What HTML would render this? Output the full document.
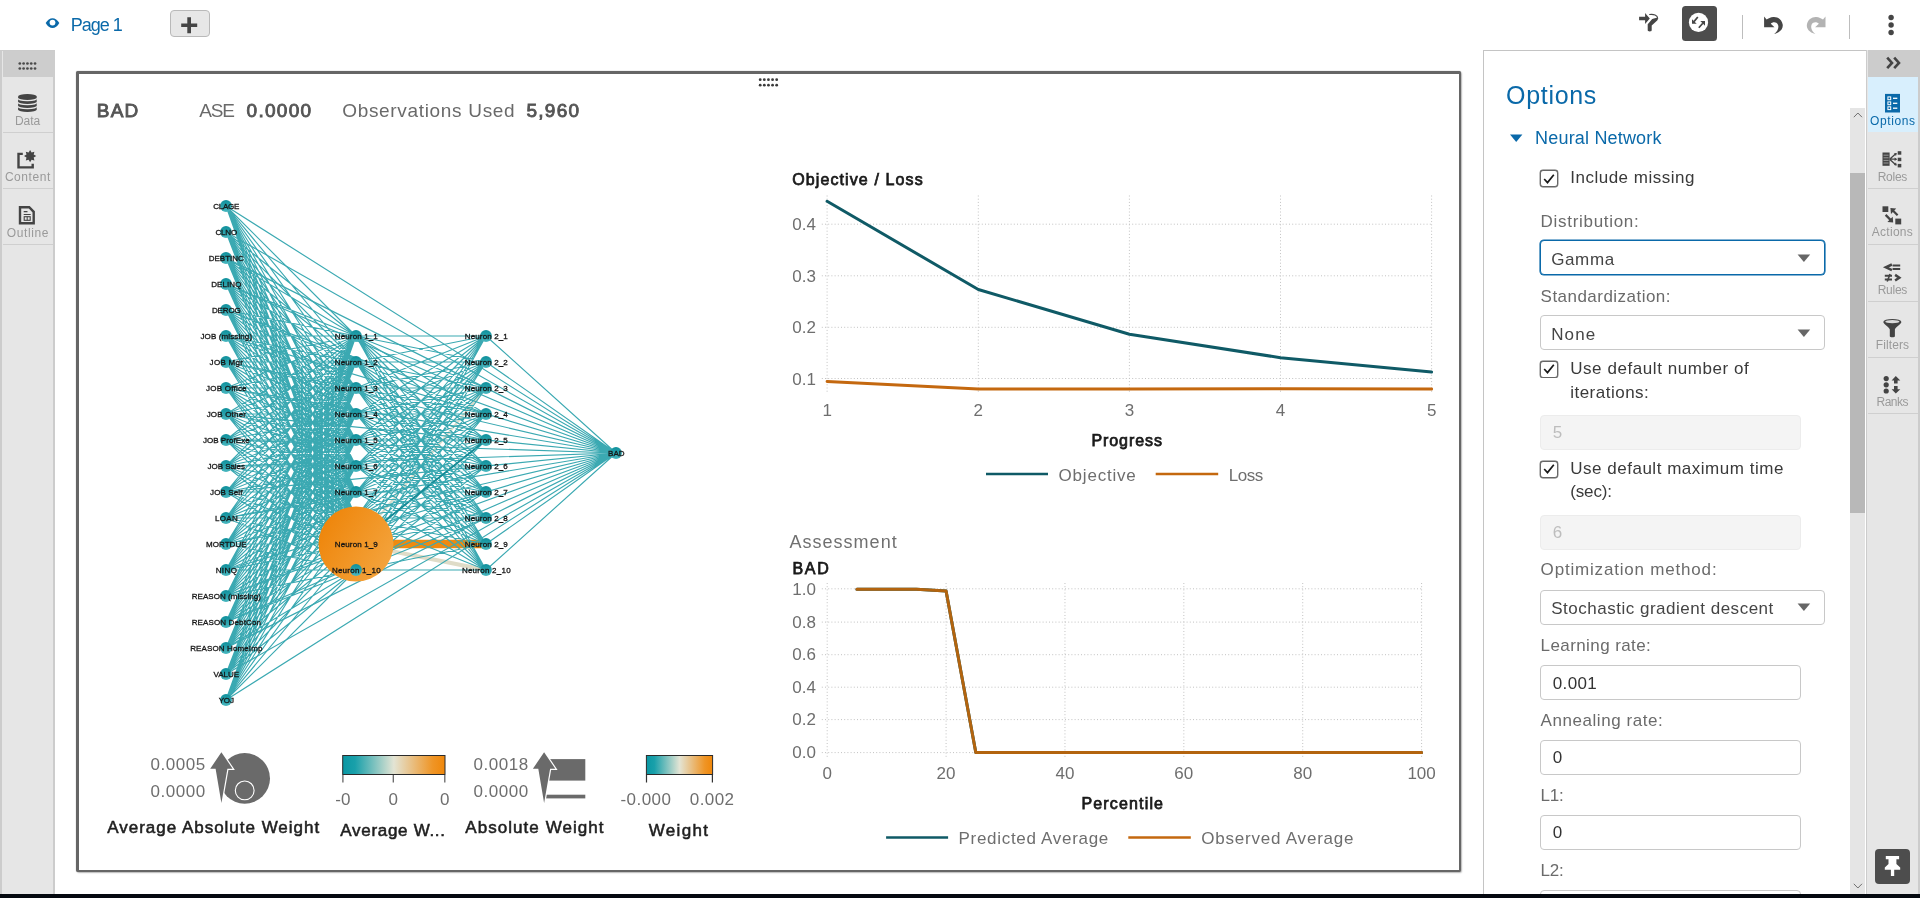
<!DOCTYPE html>
<html lang="en"><head><meta charset="utf-8"><title>SAS Visual Analytics - Neural Network</title>
<style>
html,body{margin:0;padding:0}
html{width:1920px;height:898px;overflow:hidden}
body{width:1920px;height:898px;position:relative;overflow:hidden;background:#fff;font-family:"Liberation Sans",sans-serif;color:#333}
.t{position:absolute;white-space:nowrap;line-height:1}
.abs{position:absolute}
svg{position:absolute;overflow:visible}
#topline{position:absolute;left:1483px;top:50px;width:437px;height:1px;background:#c4c4c4}
#leftbar{position:absolute;left:0;top:50px;width:55px;height:844px;background:#e6e6e6;border-left:2px solid #ccc;border-right:2px solid #ccc;border-top:1px solid #ccc;box-sizing:border-box}
#leftbar .grip{position:absolute;left:1px;top:0;width:52px;height:26px;background:#cdcdcd}
.sep{position:absolute;height:1px;background:#cfcfcf}
#frame{position:absolute;left:76px;top:71px;width:1385.3px;height:801.2px;box-sizing:border-box;border:2px solid #666;border-top-width:3px;border-left-width:3px;border-radius:2px;background:#fff;box-shadow:0 0 1px #777, 1px 1px 1.5px rgba(0,0,0,.25)}
#panel{position:absolute;left:1483px;top:50px;width:384px;height:844px;box-sizing:border-box;border-left:1px solid #c4c4c4;border-top:1px solid #c4c4c4;background:#fff;overflow:hidden}
#rightbar{position:absolute;left:1866px;top:50px;width:54px;height:844px;background:#e6e6e6;border-left:1px solid #ccc;border-right:2px solid #ccc;box-sizing:border-box}
#bottombar{position:absolute;left:0;top:894px;width:1920px;height:4px;background:#04080f}
.sel,.inp{position:absolute;box-sizing:border-box;border:1px solid #c8c8c8;border-radius:4px;background:#fff}
.inp.dis{background:#f4f4f4;border-color:#ececec}
.sel.focus{border:1px solid #0a69a9;box-shadow:0 0 0 0.6px #0a69a9}
.cb{position:absolute;box-sizing:border-box;width:18px;height:17px;border:1px solid #666;box-shadow:0 0 0 0.4px #666;border-radius:3px;background:#fff}
#app{position:absolute;left:0;top:0;width:1920px;height:898px;overflow:hidden;will-change:transform}
</style></head><body><div id="app">
<div id="toolbar">
<svg width="16" height="12" style="left:45px;top:17px" viewBox="45 17 16 12"><path d="M45.7,23.1 C47.5,19.6 50,18.2 52.5,18.2 C55,18.2 57.5,19.6 59.3,23.1 C57.5,26.6 55,28 52.5,28 C50,28 47.5,26.6 45.7,23.1 Z" fill="#0a69a9"/><circle cx="52.5" cy="22.6" r="2.9" fill="#fff"/></svg>
<div class="t" style="left:70.8px;top:15.66px;font-size:18px;color:#0a69a9;letter-spacing:-1.01px;">Page 1</div>
<div class="abs" style="left:170px;top:10px;width:40px;height:27px;box-sizing:border-box;border:1px solid #b9b9b9;border-radius:4px;background:#e7e7e7"></div>
<svg width="18" height="18" style="left:180px;top:16px" viewBox="180 16 18 18"><path d="M181.2,23.4 H187.3 V17.2 H191 V23.4 H197.2 V27 H191 V33.3 H187.3 V27 H181.2 Z" fill="#454545"/></svg>
<svg width="24" height="22" style="left:1636px;top:11px" viewBox="1636 11 24 22"><path d="M1639.1,16.7 H1645.1 V13 L1649.8,18.5 L1645.1,24 V20.3 H1639.1 Z" fill="#454545"/><path d="M1652.2,18.9 L1657.6,17.6 C1658.2,18.6 1658,19.8 1657.2,20.5 L1651.7,25.4 V30.2 C1651.7,31.8 1647.7,31.8 1647.7,30.2 V24.3 Z" fill="#454545"/><path d="M1649.6,14.5 C1653.5,13.9 1657.6,15.2 1657.7,18.2" fill="none" stroke="#454545" stroke-width="1.1" stroke-linecap="round"/></svg>
<div class="abs" style="left:1682px;top:6px;width:34.5px;height:35px;border-radius:3.5px;background:#4d4d4d"></div>
<svg width="22" height="22" style="left:1688px;top:12px" viewBox="1688 12 22 22"><circle cx="1698.5" cy="22.4" r="9.6" fill="#fff"/><path d="M1697.8,17 L1694,21.6 M1698.8,27.7 L1702.8,23.2" stroke="#454545" stroke-width="1.7" fill="none"/><path d="M1692,19.2 V23.8 H1696.7 Z M1700.3,21 H1705 V25.7 Z" fill="#454545"/></svg>
<div class="abs" style="left:1741.6px;top:15px;width:1.4px;height:24px;background:#bdbdbd"></div>
<svg width="22" height="20" style="left:1763px;top:15px" viewBox="1763 15 22 20"><path d="M1764.1,16.4 L1764.1,27.3 L1774.5,27.3 L1770.8,23.8 C1772,22.3 1774.5,21.8 1776.3,22.8 C1779.5,24.6 1779.2,30.5 1774.2,33.9 C1780.5,32.5 1783.3,28.5 1782.7,24.5 C1782,19.5 1777.5,16.6 1773.4,16.9 C1770.5,17.1 1768.3,18.3 1766.6,19.6 Z" fill="#454545"/></svg>
<svg width="22" height="20" style="left:1805px;top:15px" viewBox="1805 15 22 20"><path transform="translate(3589.6,0) scale(-1,1)" d="M1764.1,16.4 L1764.1,27.3 L1774.5,27.3 L1770.8,23.8 C1772,22.3 1774.5,21.8 1776.3,22.8 C1779.5,24.6 1779.2,30.5 1774.2,33.9 C1780.5,32.5 1783.3,28.5 1782.7,24.5 C1782,19.5 1777.5,16.6 1773.4,16.9 C1770.5,17.1 1768.3,18.3 1766.6,19.6 Z" fill="#b3b3b3"/></svg>
<div class="abs" style="left:1848.5px;top:15px;width:1.4px;height:24px;background:#bdbdbd"></div>
<svg width="8" height="22" style="left:1887px;top:14px" viewBox="1887 14 8 22"><circle cx="1891.1" cy="17.5" r="2.7" fill="#454545"/><circle cx="1891.1" cy="25" r="2.7" fill="#454545"/><circle cx="1891.1" cy="32.5" r="2.7" fill="#454545"/></svg>
</div>
<div id="topline"></div>
<div id="leftbar"><div class="grip"></div></div>
<svg width="20" height="9" style="left:18px;top:61px" viewBox="18 61 20 9" fill="#4a4a4a"><circle cx="19.8" cy="63.5" r="1.35"/><circle cx="23.61" cy="63.5" r="1.35"/><circle cx="27.42" cy="63.5" r="1.35"/><circle cx="31.23" cy="63.5" r="1.35"/><circle cx="35.04" cy="63.5" r="1.35"/><circle cx="19.8" cy="68.5" r="1.35"/><circle cx="23.61" cy="68.5" r="1.35"/><circle cx="27.42" cy="68.5" r="1.35"/><circle cx="31.23" cy="68.5" r="1.35"/><circle cx="35.04" cy="68.5" r="1.35"/></svg>
<svg width="20" height="20" style="left:17px;top:93px" viewBox="17 93 20 20"><path d="M18.1,96.4 V109.4 A9.3,2.6 0 0 0 36.7,109.4 V96.4 A9.3,2.4 0 0 0 18.1,96.4 Z" fill="#444"/><g fill="none" stroke="#e6e6e6" stroke-width="1.3"><path d="M18.1,98.3 A9.3,2.4 0 0 0 36.7,98.3"/><path d="M18.1,102.3 A9.3,2.4 0 0 0 36.7,102.3"/><path d="M18.1,106.3 A9.3,2.4 0 0 0 36.7,106.3"/></g></svg>
<div class="t" style="left:14.9px;top:114.64px;font-size:12px;color:#9a9a9a;letter-spacing:-0.02px;">Data</div>
<div class="sep" style="left:3px;top:132px;width:50px"></div>
<svg width="22" height="20" style="left:16px;top:150px" viewBox="16 150 22 20"><path d="M22.8,153.9 H18.5 V167.4 H32.7 V163.8" fill="none" stroke="#444" stroke-width="2.4"/><polygon points="30.1,150 31.59,152.5 34.41,151.79 33.7,154.61 36.2,156.1 33.7,157.59 34.41,160.41 31.59,159.7 30.1,162.2 28.61,159.7 25.79,160.41 26.5,157.59 24,156.1 26.5,154.61 25.79,151.79 28.61,152.5" fill="#444"/></svg>
<div class="t" style="left:4.9px;top:170.54px;font-size:12px;color:#9a9a9a;letter-spacing:0.55px;">Content</div>
<div class="sep" style="left:3px;top:188px;width:50px"></div>
<svg width="18" height="20" style="left:18px;top:205px" viewBox="18 205 18 20"><path d="M20,207.2 H29.2 L33.7,211.8 V223.3 H20 Z" fill="none" stroke="#444" stroke-width="2.4" stroke-linejoin="miter"/><path d="M23.7,211.6 H27.5 M23.7,214.5 H30.7" stroke="#444" stroke-width="1.2"/><rect x="24.2" y="216.7" width="6" height="3.6" fill="none" stroke="#444" stroke-width="1.1"/><path d="M27.2,216.7 V220.3" stroke="#444" stroke-width="1"/></svg>
<div class="t" style="left:6.7px;top:226.54px;font-size:12px;color:#9a9a9a;letter-spacing:0.62px;">Outline</div>
<div class="sep" style="left:3px;top:244px;width:50px"></div>
<div id="frame"></div>
<svg width="22" height="10" style="left:758px;top:77px" viewBox="758 77 22 10" fill="#3a3a3a"><circle cx="760.2" cy="79.7" r="1.4"/><circle cx="764.32" cy="79.7" r="1.4"/><circle cx="768.44" cy="79.7" r="1.4"/><circle cx="772.56" cy="79.7" r="1.4"/><circle cx="776.68" cy="79.7" r="1.4"/><circle cx="760.2" cy="85.2" r="1.4"/><circle cx="764.32" cy="85.2" r="1.4"/><circle cx="768.44" cy="85.2" r="1.4"/><circle cx="772.56" cy="85.2" r="1.4"/><circle cx="776.68" cy="85.2" r="1.4"/></svg>
<div class="t" style="left:96.8px;top:101.32px;font-size:19px;color:#555;-webkit-text-stroke:0.9px #555;letter-spacing:1.17px;">BAD</div>
<div class="t" style="left:199.2px;top:101.32px;font-size:19px;color:#6a6a6a;letter-spacing:-1.15px;">ASE</div>
<div class="t" style="left:246.6px;top:101.32px;font-size:19px;color:#555;-webkit-text-stroke:0.9px #555;letter-spacing:1.27px;">0.0000</div>
<div class="t" style="left:342.2px;top:101.32px;font-size:19px;color:#6a6a6a;letter-spacing:0.68px;">Observations Used</div>
<div class="t" style="left:526.4px;top:101.32px;font-size:19px;color:#555;-webkit-text-stroke:0.9px #555;letter-spacing:1.31px;">5,960</div>
<svg width="680" height="560" style="left:160px;top:180px" viewBox="160 180 680 560">
<defs><linearGradient id="ng" x1="0" y1="0" x2="0" y2="1"><stop offset="0" stop-color="#0f909c"/><stop offset="0.55" stop-color="#2ba4ae"/><stop offset="1" stop-color="#4ab7bf"/></linearGradient><linearGradient id="og" x1="0" y1="0.2" x2="1" y2="0.8"><stop offset="0" stop-color="#ee8408"/><stop offset="1" stop-color="#f4a53f"/></linearGradient></defs>
<path d="M356,544 L486,544" stroke="#ef8a10" stroke-width="8.5"/>
<path d="M356,544 L486,570" stroke="#dfdcc8" stroke-width="4.3"/>
<path d="M356,544 L486,388" stroke="#d9dccb" stroke-width="2.2"/>
<path d="M226,206L356,336M226,206L356,362M226,206L356,388M226,206L356,414M226,206L356,440M226,206L356,466M226,206L356,492M226,206L356,518M226,206L356,544M226,206L356,570M226,232L356,336M226,232L356,362M226,232L356,388M226,232L356,414M226,232L356,440M226,232L356,466M226,232L356,492M226,232L356,518M226,232L356,544M226,232L356,570M226,258L356,336M226,258L356,362M226,258L356,388M226,258L356,414M226,258L356,440M226,258L356,466M226,258L356,492M226,258L356,518M226,258L356,544M226,258L356,570M226,284L356,336M226,284L356,362M226,284L356,388M226,284L356,414M226,284L356,440M226,284L356,466M226,284L356,492M226,284L356,518M226,284L356,544M226,284L356,570M226,310L356,336M226,310L356,362M226,310L356,388M226,310L356,414M226,310L356,440M226,310L356,466M226,310L356,492M226,310L356,518M226,310L356,544M226,310L356,570M226,336L356,336M226,336L356,362M226,336L356,388M226,336L356,414M226,336L356,440M226,336L356,466M226,336L356,492M226,336L356,518M226,336L356,544M226,336L356,570M226,362L356,336M226,362L356,362M226,362L356,388M226,362L356,414M226,362L356,440M226,362L356,466M226,362L356,492M226,362L356,518M226,362L356,544M226,362L356,570M226,388L356,336M226,388L356,362M226,388L356,388M226,388L356,414M226,388L356,440M226,388L356,466M226,388L356,492M226,388L356,518M226,388L356,544M226,388L356,570M226,414L356,336M226,414L356,362M226,414L356,388M226,414L356,414M226,414L356,440M226,414L356,466M226,414L356,492M226,414L356,518M226,414L356,544M226,414L356,570M226,440L356,336M226,440L356,362M226,440L356,388M226,440L356,414M226,440L356,440M226,440L356,466M226,440L356,492M226,440L356,518M226,440L356,544M226,440L356,570M226,466L356,336M226,466L356,362M226,466L356,388M226,466L356,414M226,466L356,440M226,466L356,466M226,466L356,492M226,466L356,518M226,466L356,544M226,466L356,570M226,492L356,336M226,492L356,362M226,492L356,388M226,492L356,414M226,492L356,440M226,492L356,466M226,492L356,492M226,492L356,518M226,492L356,544M226,492L356,570M226,518L356,336M226,518L356,362M226,518L356,388M226,518L356,414M226,518L356,440M226,518L356,466M226,518L356,492M226,518L356,518M226,518L356,544M226,518L356,570M226,544L356,336M226,544L356,362M226,544L356,388M226,544L356,414M226,544L356,440M226,544L356,466M226,544L356,492M226,544L356,518M226,544L356,544M226,544L356,570M226,570L356,336M226,570L356,362M226,570L356,388M226,570L356,414M226,570L356,440M226,570L356,466M226,570L356,492M226,570L356,518M226,570L356,544M226,570L356,570M226,596L356,336M226,596L356,362M226,596L356,388M226,596L356,414M226,596L356,440M226,596L356,466M226,596L356,492M226,596L356,518M226,596L356,544M226,596L356,570M226,622L356,336M226,622L356,362M226,622L356,388M226,622L356,414M226,622L356,440M226,622L356,466M226,622L356,492M226,622L356,518M226,622L356,544M226,622L356,570M226,648L356,336M226,648L356,362M226,648L356,388M226,648L356,414M226,648L356,440M226,648L356,466M226,648L356,492M226,648L356,518M226,648L356,544M226,648L356,570M226,674L356,336M226,674L356,362M226,674L356,388M226,674L356,414M226,674L356,440M226,674L356,466M226,674L356,492M226,674L356,518M226,674L356,544M226,674L356,570M226,700L356,336M226,700L356,362M226,700L356,388M226,700L356,414M226,700L356,440M226,700L356,466M226,700L356,492M226,700L356,518M226,700L356,544M226,700L356,570" fill="none" stroke="#3ba9b2" stroke-width="1.15"/>
<path d="M356,336L486,336M356,336L486,362M356,336L486,388M356,336L486,414M356,336L486,440M356,336L486,466M356,336L486,492M356,336L486,518M356,336L486,544M356,336L486,570M356,362L486,336M356,362L486,362M356,362L486,388M356,362L486,414M356,362L486,440M356,362L486,466M356,362L486,492M356,362L486,518M356,362L486,544M356,362L486,570M356,388L486,336M356,388L486,362M356,388L486,388M356,388L486,414M356,388L486,440M356,388L486,466M356,388L486,492M356,388L486,518M356,388L486,544M356,388L486,570M356,414L486,336M356,414L486,362M356,414L486,388M356,414L486,414M356,414L486,440M356,414L486,466M356,414L486,492M356,414L486,518M356,414L486,544M356,414L486,570M356,440L486,336M356,440L486,362M356,440L486,388M356,440L486,414M356,440L486,440M356,440L486,466M356,440L486,492M356,440L486,518M356,440L486,544M356,440L486,570M356,466L486,336M356,466L486,362M356,466L486,388M356,466L486,414M356,466L486,440M356,466L486,466M356,466L486,492M356,466L486,518M356,466L486,544M356,466L486,570M356,492L486,336M356,492L486,362M356,492L486,388M356,492L486,414M356,492L486,440M356,492L486,466M356,492L486,492M356,492L486,518M356,492L486,544M356,492L486,570M356,518L486,336M356,518L486,362M356,518L486,388M356,518L486,414M356,518L486,440M356,518L486,466M356,518L486,492M356,518L486,518M356,518L486,544M356,518L486,570M356,544L486,336M356,544L486,362M356,544L486,414M356,544L486,440M356,544L486,466M356,544L486,492M356,544L486,518M356,570L486,336M356,570L486,362M356,570L486,388M356,570L486,414M356,570L486,440M356,570L486,466M356,570L486,492M356,570L486,518M356,570L486,544M356,570L486,570" fill="none" stroke="#3ba9b2" stroke-width="1.15"/>
<path d="M356,544 L486,440" stroke="#158b97" stroke-width="1.9"/>
<path d="M226,206L616,453M226,232L616,453M226,258L616,453M226,284L616,453M226,310L616,453M226,336L616,453M226,362L616,453M226,388L616,453M226,414L616,453M226,440L616,453M226,466L616,453M226,492L616,453M226,518L616,453M226,544L616,453M226,570L616,453M226,596L616,453M226,622L616,453M226,648L616,453M226,674L616,453M226,700L616,453M486,336L616,453M486,362L616,453M486,388L616,453M486,414L616,453M486,440L616,453M486,466L616,453M486,492L616,453M486,518L616,453M486,544L616,453M486,570L616,453" fill="none" stroke="#3ba9b2" stroke-width="1.15"/>
<g font-family="Liberation Sans, sans-serif" stroke="#151515" stroke-width="0.3">
<circle cx="226" cy="206" r="5.9" fill="url(#ng)" stroke="none"/>
<text x="213.2" y="208.6" font-size="8" fill="#151515" letter-spacing="-0.23">CLAGE</text>
<circle cx="226" cy="232" r="5.9" fill="url(#ng)" stroke="none"/>
<text x="215.4" y="234.6" font-size="8" fill="#151515" letter-spacing="-0.15">CLNO</text>
<circle cx="226" cy="258" r="5.9" fill="url(#ng)" stroke="none"/>
<text x="208.7" y="260.6" font-size="8" fill="#151515" letter-spacing="0.01">DEBTINC</text>
<circle cx="226" cy="284" r="5.9" fill="url(#ng)" stroke="none"/>
<text x="211.2" y="286.6" font-size="8" fill="#151515" letter-spacing="0.08">DELINQ</text>
<circle cx="226" cy="310" r="5.9" fill="url(#ng)" stroke="none"/>
<text x="211.95" y="312.6" font-size="8" fill="#151515" letter-spacing="-0.15">DEROG</text>
<circle cx="226" cy="336" r="5.9" fill="url(#ng)" stroke="none"/>
<text x="200.45" y="338.6" font-size="8" fill="#151515" letter-spacing="0.12">JOB (missing)</text>
<circle cx="226" cy="362" r="5.9" fill="url(#ng)" stroke="none"/>
<text x="209.6" y="364.6" font-size="8" fill="#151515" letter-spacing="0.31">JOB Mgr</text>
<circle cx="226" cy="388" r="5.9" fill="url(#ng)" stroke="none"/>
<text x="206.05" y="390.6" font-size="8" fill="#151515" letter-spacing="0.22">JOB Office</text>
<circle cx="226" cy="414" r="5.9" fill="url(#ng)" stroke="none"/>
<text x="206.65" y="416.6" font-size="8" fill="#151515" letter-spacing="0.19">JOB Other</text>
<circle cx="226" cy="440" r="5.9" fill="url(#ng)" stroke="none"/>
<text x="202.9" y="442.6" font-size="8" fill="#151515" letter-spacing="0.05">JOB ProfExe</text>
<circle cx="226" cy="466" r="5.9" fill="url(#ng)" stroke="none"/>
<text x="207.6" y="468.6" font-size="8" fill="#151515" letter-spacing="-0.05">JOB Sales</text>
<circle cx="226" cy="492" r="5.9" fill="url(#ng)" stroke="none"/>
<text x="210.1" y="494.6" font-size="8" fill="#151515" letter-spacing="0.11">JOB Self</text>
<circle cx="226" cy="518" r="5.9" fill="url(#ng)" stroke="none"/>
<text x="214.9" y="520.6" font-size="8" fill="#151515" letter-spacing="0.33">LOAN</text>
<circle cx="226" cy="544" r="5.9" fill="url(#ng)" stroke="none"/>
<text x="206.05" y="546.6" font-size="8" fill="#151515" letter-spacing="0.03">MORTDUE</text>
<circle cx="226" cy="570" r="5.9" fill="url(#ng)" stroke="none"/>
<text x="215.7" y="572.6" font-size="8" fill="#151515" letter-spacing="0.4">NINQ</text>
<circle cx="226" cy="596" r="5.9" fill="url(#ng)" stroke="none"/>
<text x="191.7" y="598.6" font-size="8" fill="#151515" letter-spacing="0.05">REASON (missing)</text>
<circle cx="226" cy="622" r="5.9" fill="url(#ng)" stroke="none"/>
<text x="191.7" y="624.6" font-size="8" fill="#151515" letter-spacing="0.13">REASON DebtCon</text>
<circle cx="226" cy="648" r="5.9" fill="url(#ng)" stroke="none"/>
<text x="190.15" y="650.6" font-size="8" fill="#151515" letter-spacing="0.12">REASON HomeImp</text>
<circle cx="226" cy="674" r="5.9" fill="url(#ng)" stroke="none"/>
<text x="213.5" y="676.6" font-size="8" fill="#151515" letter-spacing="-0.01">VALUE</text>
<circle cx="226" cy="700" r="5.9" fill="url(#ng)" stroke="none"/>
<text x="218.65" y="702.6" font-size="8" fill="#151515" letter-spacing="-0.13">YOJ</text>
<circle cx="356" cy="336" r="5.9" fill="url(#ng)" stroke="none"/>
<text x="334.8" y="338.6" font-size="8" fill="#151515" letter-spacing="0.13">Neuron 1_1</text>
<circle cx="356" cy="362" r="5.9" fill="url(#ng)" stroke="none"/>
<text x="334.8" y="364.6" font-size="8" fill="#151515" letter-spacing="0.13">Neuron 1_2</text>
<circle cx="356" cy="388" r="5.9" fill="url(#ng)" stroke="none"/>
<text x="334.8" y="390.6" font-size="8" fill="#151515" letter-spacing="0.13">Neuron 1_3</text>
<circle cx="356" cy="414" r="5.9" fill="url(#ng)" stroke="none"/>
<text x="334.8" y="416.6" font-size="8" fill="#151515" letter-spacing="0.13">Neuron 1_4</text>
<circle cx="356" cy="440" r="5.9" fill="url(#ng)" stroke="none"/>
<text x="334.8" y="442.6" font-size="8" fill="#151515" letter-spacing="0.13">Neuron 1_5</text>
<circle cx="356" cy="466" r="5.9" fill="url(#ng)" stroke="none"/>
<text x="334.8" y="468.6" font-size="8" fill="#151515" letter-spacing="0.13">Neuron 1_6</text>
<circle cx="356" cy="492" r="5.9" fill="url(#ng)" stroke="none"/>
<text x="334.8" y="494.6" font-size="8" fill="#151515" letter-spacing="0.13">Neuron 1_7</text>
<circle cx="356" cy="518" r="5.9" fill="url(#ng)" stroke="none"/>
<text x="334.8" y="520.6" font-size="8" fill="#151515" letter-spacing="0.13">Neuron 1_8</text>
<circle cx="356" cy="544" r="37.5" fill="url(#og)" stroke="none"/>
<text x="334.8" y="546.6" font-size="8" fill="#151515" letter-spacing="0.13">Neuron 1_9</text>
<circle cx="356" cy="570" r="5.9" fill="url(#ng)" stroke="none"/>
<text x="331.9" y="572.6" font-size="8" fill="#151515" letter-spacing="0.25">Neuron 1_10</text>
<circle cx="486" cy="336" r="5.9" fill="url(#ng)" stroke="none"/>
<text x="464.8" y="338.6" font-size="8" fill="#151515" letter-spacing="0.13">Neuron 2_1</text>
<circle cx="486" cy="362" r="5.9" fill="url(#ng)" stroke="none"/>
<text x="464.8" y="364.6" font-size="8" fill="#151515" letter-spacing="0.13">Neuron 2_2</text>
<circle cx="486" cy="388" r="5.9" fill="url(#ng)" stroke="none"/>
<text x="464.8" y="390.6" font-size="8" fill="#151515" letter-spacing="0.13">Neuron 2_3</text>
<circle cx="486" cy="414" r="5.9" fill="url(#ng)" stroke="none"/>
<text x="464.8" y="416.6" font-size="8" fill="#151515" letter-spacing="0.13">Neuron 2_4</text>
<circle cx="486" cy="440" r="5.9" fill="url(#ng)" stroke="none"/>
<text x="464.8" y="442.6" font-size="8" fill="#151515" letter-spacing="0.13">Neuron 2_5</text>
<circle cx="486" cy="466" r="5.9" fill="url(#ng)" stroke="none"/>
<text x="464.8" y="468.6" font-size="8" fill="#151515" letter-spacing="0.13">Neuron 2_6</text>
<circle cx="486" cy="492" r="5.9" fill="url(#ng)" stroke="none"/>
<text x="464.8" y="494.6" font-size="8" fill="#151515" letter-spacing="0.13">Neuron 2_7</text>
<circle cx="486" cy="518" r="5.9" fill="url(#ng)" stroke="none"/>
<text x="464.8" y="520.6" font-size="8" fill="#151515" letter-spacing="0.13">Neuron 2_8</text>
<circle cx="486" cy="544" r="5.9" fill="url(#ng)" stroke="none"/>
<text x="464.8" y="546.6" font-size="8" fill="#151515" letter-spacing="0.13">Neuron 2_9</text>
<circle cx="486" cy="570" r="5.9" fill="url(#ng)" stroke="none"/>
<text x="461.9" y="572.6" font-size="8" fill="#151515" letter-spacing="0.25">Neuron 2_10</text>
<circle cx="616" cy="453" r="5.9" fill="url(#ng)" stroke="none"/>
<text x="608.05" y="455.6" font-size="8" fill="#151515" letter-spacing="0.03">BAD</text>
</g></svg>
<svg width="680" height="110" style="left:90px;top:745px" viewBox="90 745 680 110" font-family="Liberation Sans, sans-serif">
<defs><linearGradient id="cg" x1="0" x2="1" y1="0" y2="0"><stop offset="0" stop-color="#0a97a3"/><stop offset="0.12" stop-color="#19a0aa"/><stop offset="0.5" stop-color="#e3e4d4"/><stop offset="0.88" stop-color="#ef9526"/><stop offset="1" stop-color="#f0870a"/></linearGradient></defs>
<text x="150.4" y="770.3" font-size="17" fill="#6e6e6e" letter-spacing="0.58">0.0005</text>
<text x="150.4" y="796.6" font-size="17" fill="#6e6e6e" letter-spacing="0.58">0.0000</text>
<circle cx="244.7" cy="778.4" r="25.3" fill="#6a6a6a"/>
<circle cx="244.7" cy="790.4" r="9.4" fill="none" stroke="#fff" stroke-width="1.1"/>
<path d="M221.4,752.3 L232.6,768.7 L227.4,768.7 L221.4,803 L215.6,768.7 L210.2,768.7 Z" fill="#6a6a6a" stroke="#fff" stroke-width="2.4" stroke-linejoin="miter" paint-order="stroke"/>
<text x="107.3" y="832.8" font-size="17" fill="#1f1f1f" stroke="#1f1f1f" stroke-width="0.55" letter-spacing="0.98">Average Absolute Weight</text>
<rect x="342.7" y="755.5" width="102.3" height="19" fill="url(#cg)" stroke="#2b2b2b" stroke-width="1"/>
<path d="M342.9,775 V782.5 M393.3,775 V782.5 M444.8,775 V782.5" stroke="#666" stroke-width="1.3"/>
<text x="335.24" y="804.6" font-size="17" fill="#6e6e6e">-0</text>
<text x="388.48" y="804.6" font-size="17" fill="#6e6e6e">0</text>
<text x="439.98" y="804.6" font-size="17" fill="#6e6e6e">0</text>
<text x="340.3" y="836" font-size="17" fill="#1f1f1f" stroke="#1f1f1f" stroke-width="0.55" letter-spacing="0.7">Average W...</text>
<text x="473.4" y="770.3" font-size="17" fill="#6e6e6e" letter-spacing="0.54">0.0018</text>
<text x="473.4" y="796.6" font-size="17" fill="#6e6e6e" letter-spacing="0.54">0.0000</text>
<rect x="549" y="759.1" width="36.3" height="21.5" fill="#6a6a6a"/>
<rect x="545" y="794.7" width="40.3" height="3.7" fill="#6a6a6a"/>
<path d="M544.1,752.3 L555.3,768.7 L550.1,768.7 L544.1,803 L538.3,768.7 L532.9,768.7 Z" fill="#6a6a6a" stroke="#fff" stroke-width="2.4" stroke-linejoin="miter" paint-order="stroke"/>
<text x="465.3" y="832.8" font-size="17" fill="#1f1f1f" stroke="#1f1f1f" stroke-width="0.55" letter-spacing="1.05">Absolute Weight</text>
<rect x="646.4" y="755.5" width="66.2" height="19" fill="url(#cg)" stroke="#2b2b2b" stroke-width="1"/>
<path d="M646.5,775 V782.5 M712.4,775 V782.5" stroke="#333" stroke-width="1.2"/>
<text x="620.4" y="804.6" font-size="17" fill="#6e6e6e" letter-spacing="0.48">-0.000</text>
<text x="689.8" y="804.6" font-size="17" fill="#6e6e6e" letter-spacing="0.41">0.002</text>
<text x="648.7" y="836" font-size="17" fill="#1f1f1f" stroke="#1f1f1f" stroke-width="0.55" letter-spacing="1.35">Weight</text>
</svg>
<svg width="700" height="340" style="left:770px;top:150px" viewBox="770 150 700 340" font-family="Liberation Sans, sans-serif">
<text x="792.2" y="185.3" font-size="16" fill="#1a1a1a" stroke="#1a1a1a" stroke-width="0.75" letter-spacing="1.11">Objective / Loss</text>
<path d="M827.1,195.5 V393.5 M978.3,195.5 V393.5 M1129.4,195.5 V393.5 M1280.5,195.5 V393.5 M1431.6,195.5 V393.5 M821.8,224.2 H1431.6 M821.8,275.8 H1431.6 M821.8,327.3 H1431.6 M821.8,378.5 H1431.6" fill="none" stroke="#c2c2c2" stroke-width="1" stroke-dasharray="1,2.2"/>
<text x="792.2" y="230.3" font-size="17" fill="#6e6e6e" letter-spacing="0.04">0.4</text>
<text x="792.2" y="281.9" font-size="17" fill="#6e6e6e" letter-spacing="0.04">0.3</text>
<text x="792.2" y="333.4" font-size="17" fill="#6e6e6e" letter-spacing="0.04">0.2</text>
<text x="792.2" y="384.6" font-size="17" fill="#6e6e6e" letter-spacing="0.04">0.1</text>
<text x="822.38" y="415.9" font-size="17" fill="#6e6e6e">1</text>
<text x="973.58" y="415.9" font-size="17" fill="#6e6e6e">2</text>
<text x="1124.68" y="415.9" font-size="17" fill="#6e6e6e">3</text>
<text x="1275.78" y="415.9" font-size="17" fill="#6e6e6e">4</text>
<text x="1426.88" y="415.9" font-size="17" fill="#6e6e6e">5</text>
<polyline points="827.1,381.5 978.3,388.9 1129.4,388.9 1280.5,388.7 1431.6,388.9" fill="none" stroke="#c4680f" stroke-width="3" stroke-linejoin="round" stroke-linecap="round"/>
<polyline points="827.1,201.3 978.3,289.5 1129.4,334.3 1280.5,357.7 1431.6,372.1" fill="none" stroke="#0f5a66" stroke-width="3" stroke-linejoin="round" stroke-linecap="round"/>
<text x="1091.4" y="445.5" font-size="16" fill="#1a1a1a" stroke="#1a1a1a" stroke-width="0.75" letter-spacing="0.93">Progress</text>
<path d="M986,474 H1048" stroke="#0f5a66" stroke-width="2.4"/>
<text x="1058.6" y="480.9" font-size="17" fill="#6e6e6e" letter-spacing="0.79">Objective</text>
<path d="M1155.7,474 H1218.2" stroke="#c4680f" stroke-width="2.4"/>
<text x="1228.8" y="480.9" font-size="17" fill="#6e6e6e" letter-spacing="-0.51">Loss</text>
</svg>
<svg width="700" height="350" style="left:770px;top:520px" viewBox="770 520 700 350" font-family="Liberation Sans, sans-serif">
<text x="789.4" y="548.1" font-size="18" fill="#707070" letter-spacing="1.03">Assessment</text>
<text x="792.5" y="573.6" font-size="16" fill="#1a1a1a" stroke="#1a1a1a" stroke-width="0.75" letter-spacing="1.66">BAD</text>
<path d="M827.2,583 V757.5 M946.08,583 V757.5 M1064.96,583 V757.5 M1183.84,583 V757.5 M1302.72,583 V757.5 M1421.6,583 V757.5 M821.8,588.8 H1421.6 M821.8,622.1 H1421.6 M821.8,654.7 H1421.6 M821.8,687.2 H1421.6 M821.8,719.6 H1421.6 M821.8,752.6 H1421.6" fill="none" stroke="#c2c2c2" stroke-width="1" stroke-dasharray="1,2.2"/>
<text x="792.2" y="594.5" font-size="17" fill="#6e6e6e" letter-spacing="0.04">1.0</text>
<text x="792.2" y="627.8" font-size="17" fill="#6e6e6e" letter-spacing="0.04">0.8</text>
<text x="792.2" y="660.4" font-size="17" fill="#6e6e6e" letter-spacing="0.04">0.6</text>
<text x="792.2" y="692.9" font-size="17" fill="#6e6e6e" letter-spacing="0.04">0.4</text>
<text x="792.2" y="725.3" font-size="17" fill="#6e6e6e" letter-spacing="0.04">0.2</text>
<text x="792.2" y="758.3" font-size="17" fill="#6e6e6e" letter-spacing="0.04">0.0</text>
<text x="822.48" y="778.8" font-size="17" fill="#6e6e6e">0</text>
<text x="936.61" y="778.8" font-size="17" fill="#6e6e6e">20</text>
<text x="1055.49" y="778.8" font-size="17" fill="#6e6e6e">40</text>
<text x="1174.37" y="778.8" font-size="17" fill="#6e6e6e">60</text>
<text x="1293.25" y="778.8" font-size="17" fill="#6e6e6e">80</text>
<text x="1407.41" y="778.8" font-size="17" fill="#6e6e6e">100</text>
<polyline points="856.92,589.2 916.36,589.2 946.08,591 975.8,752.6 1421.6,752.6" fill="none" stroke="#0f5a66" stroke-width="3" stroke-linejoin="round" stroke-linecap="round"/>
<polyline points="856.92,589.2 916.36,589.2 946.08,591 975.8,752.6 1421.6,752.6" fill="none" stroke="#b3640f" stroke-width="3" stroke-linejoin="round" stroke-linecap="round"/>
<text x="1081.5" y="808.7" font-size="16" fill="#1a1a1a" stroke="#1a1a1a" stroke-width="0.75" letter-spacing="1.15">Percentile</text>
<path d="M886.1,837.5 H948.1" stroke="#0f5a66" stroke-width="2.4"/>
<text x="958.5" y="843.9" font-size="17" fill="#6e6e6e" letter-spacing="0.7">Predicted Average</text>
<path d="M1128.3,837.5 H1190.8" stroke="#c4680f" stroke-width="2.4"/>
<text x="1201.2" y="843.9" font-size="17" fill="#6e6e6e" letter-spacing="0.79">Observed Average</text>
</svg>
<div id="panel"></div>
<div class="t" style="left:1506px;top:83.24px;font-size:25px;color:#0a69a9;letter-spacing:0.7px;">Options</div>
<svg width="14" height="9" style="left:1509px;top:134px" viewBox="1509 134 14 9"><path d="M1510,134.6 H1522.4 L1516.2,142 Z" fill="#0a69a9"/></svg>
<div class="t" style="left:1535.1px;top:129.36px;font-size:18px;color:#0a69a9;letter-spacing:0.18px;">Neural Network</div>
<div class="cb" style="left:1540px;top:170.2px"></div>
<svg width="14" height="12" style="left:1542px;top:173px" viewBox="0 0 14 12"><path d="M2.2,6 L5.5,9.6 L11.8,1.8" fill="none" stroke="#1a1a1a" stroke-width="1.7"/></svg>
<div class="t" style="left:1570.2px;top:169.31px;font-size:17px;color:#3a3a3a;letter-spacing:0.51px;">Include missing</div>
<div class="t" style="left:1540.6px;top:212.71px;font-size:17px;color:#6b6b6b;letter-spacing:0.7px;">Distribution:</div>
<div class="sel focus" style="left:1540px;top:240.3px;width:285px;height:34.5px"></div>
<div class="t" style="left:1551.2px;top:250.51px;font-size:17px;color:#454545;letter-spacing:0.62px;">Gamma</div>
<svg width="14" height="9" style="left:1797px;top:253.5px" viewBox="0 0 14 9"><path d="M0.6,0.6 H13.2 L6.9,7.9 Z" fill="#666"/></svg>
<div class="t" style="left:1540.6px;top:287.91px;font-size:17px;color:#6b6b6b;letter-spacing:0.47px;">Standardization:</div>
<div class="sel" style="left:1540px;top:315.3px;width:285px;height:34.5px"></div>
<div class="t" style="left:1551.2px;top:325.51px;font-size:17px;color:#454545;letter-spacing:1.12px;">None</div>
<svg width="14" height="9" style="left:1797px;top:328.5px" viewBox="0 0 14 9"><path d="M0.6,0.6 H13.2 L6.9,7.9 Z" fill="#666"/></svg>
<div class="cb" style="left:1540px;top:360.5px"></div>
<svg width="14" height="12" style="left:1542px;top:363.3px" viewBox="0 0 14 12"><path d="M2.2,6 L5.5,9.6 L11.8,1.8" fill="none" stroke="#1a1a1a" stroke-width="1.7"/></svg>
<div class="t" style="left:1570.2px;top:359.71px;font-size:17px;color:#3a3a3a;letter-spacing:0.57px;">Use default number of</div>
<div class="t" style="left:1570.2px;top:384.11px;font-size:17px;color:#3a3a3a;letter-spacing:0.49px;">iterations:</div>
<div class="inp dis" style="left:1540px;top:415.2px;width:261px;height:34.5px"></div>
<div class="t" style="left:1552.8px;top:424.41px;font-size:17px;color:#bdbdbd;">5</div>
<div class="cb" style="left:1540px;top:460.5px"></div>
<svg width="14" height="12" style="left:1542px;top:463.3px" viewBox="0 0 14 12"><path d="M2.2,6 L5.5,9.6 L11.8,1.8" fill="none" stroke="#1a1a1a" stroke-width="1.7"/></svg>
<div class="t" style="left:1570.2px;top:459.91px;font-size:17px;color:#3a3a3a;letter-spacing:0.52px;">Use default maximum time</div>
<div class="t" style="left:1570.2px;top:483.31px;font-size:17px;color:#3a3a3a;letter-spacing:-0.14px;">(sec):</div>
<div class="inp dis" style="left:1540px;top:515px;width:261px;height:34.5px"></div>
<div class="t" style="left:1552.8px;top:524.21px;font-size:17px;color:#bdbdbd;">6</div>
<div class="t" style="left:1540.6px;top:561.21px;font-size:17px;color:#6b6b6b;letter-spacing:0.81px;">Optimization method:</div>
<div class="sel" style="left:1540px;top:590px;width:285px;height:34.5px"></div>
<div class="t" style="left:1551.2px;top:600.21px;font-size:17px;color:#454545;letter-spacing:0.51px;">Stochastic gradient descent</div>
<svg width="14" height="9" style="left:1797px;top:603.2px" viewBox="0 0 14 9"><path d="M0.6,0.6 H13.2 L6.9,7.9 Z" fill="#666"/></svg>
<div class="t" style="left:1540.6px;top:636.61px;font-size:17px;color:#6b6b6b;letter-spacing:0.41px;">Learning rate:</div>
<div class="inp" style="left:1540px;top:665.3px;width:261px;height:34.5px"></div>
<div class="t" style="left:1552.8px;top:674.51px;font-size:17px;color:#333;letter-spacing:0.36px;">0.001</div>
<div class="t" style="left:1540.6px;top:711.81px;font-size:17px;color:#6b6b6b;letter-spacing:0.55px;">Annealing rate:</div>
<div class="inp" style="left:1540px;top:740px;width:261px;height:34.5px"></div>
<div class="t" style="left:1552.8px;top:749.21px;font-size:17px;color:#333;">0</div>
<div class="t" style="left:1540.6px;top:786.71px;font-size:17px;color:#6b6b6b;letter-spacing:-0.31px;">L1:</div>
<div class="inp" style="left:1540px;top:815.2px;width:261px;height:34.5px"></div>
<div class="t" style="left:1552.8px;top:824.41px;font-size:17px;color:#333;">0</div>
<div class="t" style="left:1540.6px;top:862.01px;font-size:17px;color:#6b6b6b;letter-spacing:-0.31px;">L2:</div>
<div class="inp" style="left:1540px;top:890.2px;width:261px;height:34.5px"></div>
<div class="t" style="left:1552.8px;top:899.41px;font-size:17px;color:#333;"></div>
<div class="abs" style="left:1850px;top:108px;width:15px;height:786px;background:#e5e5e5"></div>
<div class="abs" style="left:1850px;top:173px;width:15px;height:340px;background:#b8b8b8"></div>
<svg width="10" height="6" style="left:1853px;top:112px" viewBox="0 0 10 6"><path d="M0.8,5.2 L4.9,1 L9,5.2" fill="none" stroke="#6f6f6f" stroke-width="1"/></svg>
<svg width="10" height="6" style="left:1853px;top:883px" viewBox="0 0 10 6"><path d="M0.8,0.8 L4.9,5 L9,0.8" fill="none" stroke="#6f6f6f" stroke-width="1"/></svg>
<div id="rightbar"><div class="abs" style="left:1px;top:0;width:52px;height:26.7px;background:#ccc"></div><div class="abs" style="left:1px;top:26.7px;width:50px;height:55.3px;background:#d8effd"></div></div>
<svg width="16" height="14" style="left:1885px;top:56px" viewBox="1885 56 16 14"><path d="M1887.2,57.6 L1892,62.9 L1887.2,68.2 M1894.2,57.6 L1899,62.9 L1894.2,68.2" fill="none" stroke="#444" stroke-width="2.6" stroke-linejoin="miter"/></svg>
<svg width="16" height="20" style="left:1885px;top:93px" viewBox="1885 93 16 20"><rect x="1885" y="93.9" width="15" height="18.6" fill="#0a69a9"/><rect x="1887.9" y="96.9" width="2.8" height="2.8" fill="none" stroke="#fff" stroke-width="1"/><rect x="1893" y="97.65" width="4.3" height="1.3" fill="#fff"/><rect x="1887.9" y="101.9" width="2.8" height="2.8" fill="none" stroke="#fff" stroke-width="1"/><rect x="1893" y="102.65" width="4.3" height="1.3" fill="#fff"/><rect x="1887.9" y="106.8" width="2.8" height="2.8" fill="none" stroke="#fff" stroke-width="1"/><rect x="1893" y="107.55" width="4.3" height="1.3" fill="#fff"/></svg>
<div class="t" style="left:1870.1px;top:114.64px;font-size:12px;color:#0a69a9;letter-spacing:0.6px;">Options</div>
<svg width="20" height="18" style="left:1882px;top:150px" viewBox="1882 150 20 18"><rect x="1882.5" y="152.5" width="7.1" height="13.3" fill="#444"/><path d="M1883.5,155.2 H1888.6 M1883.5,157.8 H1888.6 M1883.5,160.4 H1888.6 M1883.5,163 H1888.6" stroke="#9a9a9a" stroke-width="1"/><path d="M1889.6,159.2 L1896,153.6 M1889.6,159.2 H1896.3 M1889.6,159.2 L1896,164.9" stroke="#444" stroke-width="1.3" fill="none"/><path d="M1897.2,159.3 L1894.6,157.5 V161.1 Z M1896.9,152.9 L1893.8,153.4 L1896,155.9 Z M1896.9,165.6 L1893.8,165.1 L1896,162.6 Z" fill="#444"/><rect x="1897.7" y="151.2" width="3.6" height="3.5" fill="#444"/><rect x="1897.7" y="157.7" width="3.6" height="3.5" fill="#444"/><rect x="1897.7" y="163.9" width="3.6" height="3.5" fill="#444"/></svg>
<div class="t" style="left:1877.7px;top:170.64px;font-size:12px;color:#9a9a9a;letter-spacing:-0.25px;">Roles</div>
<div class="sep" style="left:1868px;top:188px;width:50px"></div>
<svg width="20" height="20" style="left:1882px;top:205px" viewBox="1882 205 20 20"><rect x="1882.5" y="206.3" width="5.8" height="5.7" fill="#444"/><rect x="1895.3" y="218.6" width="5.9" height="5.8" fill="#444"/><path d="M1897.6,215.2 L1892.6,210.3" stroke="#444" stroke-width="2.2" fill="none"/><path d="M1890.4,208.1 L1896.2,208.6 L1891,213.9 Z" fill="#444"/><path d="M1885.6,214.9 L1890.8,220.1" stroke="#444" stroke-width="2.2" fill="none"/><path d="M1893.2,222.5 L1887.4,222 L1892.7,216.7 Z" fill="#444"/></svg>
<div class="t" style="left:1871.7px;top:226.34px;font-size:12px;color:#9a9a9a;letter-spacing:0.3px;">Actions</div>
<div class="sep" style="left:1868px;top:244px;width:50px"></div>
<svg width="20" height="20" style="left:1882px;top:262px" viewBox="1882 262 20 20"><path d="M1891.9,264.5 L1885.9,267.3 L1891.9,270.1" fill="none" stroke="#444" stroke-width="2.5"/><path d="M1892.6,265.4 H1900.2 M1892.6,269 H1900.2" stroke="#444" stroke-width="2"/><path d="M1884.8,275.8 H1892 M1884.8,279.5 H1892" stroke="#444" stroke-width="2"/><path d="M1890,274 L1887.2,281.5" stroke="#444" stroke-width="1.6"/><path d="M1895.1,274.9 L1899.3,277.7 L1895.1,280.5" fill="none" stroke="#444" stroke-width="2.5"/></svg>
<div class="t" style="left:1877.7px;top:283.64px;font-size:12px;color:#9a9a9a;letter-spacing:-0.27px;">Rules</div>
<div class="sep" style="left:1868px;top:300.5px;width:50px"></div>
<svg width="20" height="20" style="left:1882px;top:318px" viewBox="1882 318 20 20"><path d="M1883.3,321.9 A9.05,2.9 0 0 1 1901.4,321.9 C1901.4,324 1895,327.5 1894.9,329.5 V336.2 C1894.9,337.7 1889.8,337.7 1889.8,336.2 V329.5 C1889.7,327.5 1883.3,324 1883.3,321.9 Z" fill="#444"/><ellipse cx="1892.35" cy="321.7" rx="7.1" ry="1.6" fill="#dcdcdc"/></svg>
<div class="t" style="left:1875.8px;top:339.14px;font-size:12px;color:#9a9a9a;letter-spacing:0.1px;">Filters</div>
<div class="sep" style="left:1868px;top:356.7px;width:50px"></div>
<svg width="20" height="20" style="left:1882px;top:375px" viewBox="1882 375 20 20"><circle cx="1886.2" cy="378.6" r="2.6" fill="#444"/><circle cx="1886.2" cy="384.8" r="2.6" fill="#444"/><circle cx="1886.2" cy="391" r="2.6" fill="#444"/><path d="M1895.8,376 L1900.3,380.5 H1897.6 V383.6 H1894 V380.5 H1891.6 Z M1895.8,393.6 L1900.3,389.3 H1897.6 V386 H1894 V389.3 H1891.6 Z" fill="#444"/></svg>
<div class="t" style="left:1876.5px;top:395.64px;font-size:12px;color:#9a9a9a;letter-spacing:-0.5px;">Ranks</div>
<div class="sep" style="left:1868px;top:412.7px;width:50px"></div>
<div class="abs" style="left:1875px;top:849px;width:34.8px;height:35px;border-radius:4px;background:#4d4d4d"></div>
<svg width="18" height="22" style="left:1884px;top:855px" viewBox="1884 855 18 22"><path d="M1885.8,855.9 H1899.1 V859.2 H1896.4 V864 L1900.2,867.6 V869.8 H1894.2 V876 H1890.9 V869.8 H1884.8 V867.6 L1888.5,864 V859.2 H1885.8 Z" fill="#fff"/></svg>
<div id="bottombar"></div>
</div></body></html>
